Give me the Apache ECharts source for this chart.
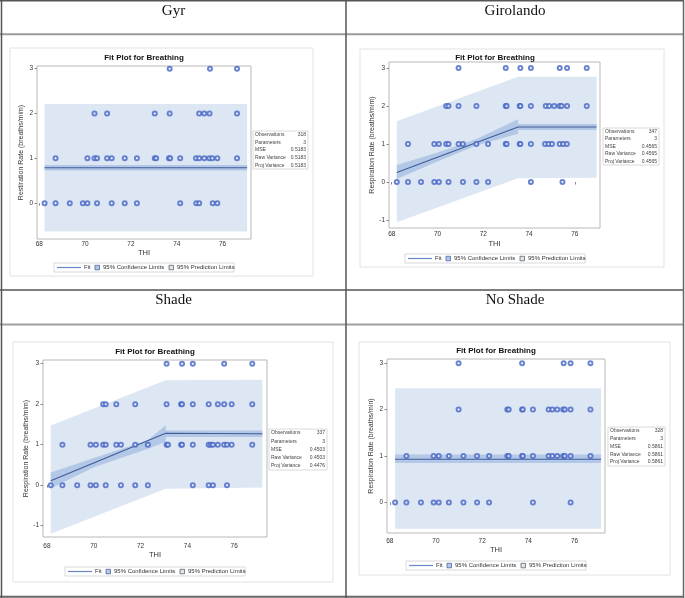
<!DOCTYPE html>
<html>
<head>
<meta charset="utf-8">
<script src="https://cdn.jsdelivr.net/npm/echarts@6/dist/echarts.min.js"></script>
<style>
html, body { margin: 0; padding: 0; background: #fff; }
#chart { width: 685px; height: 598px; }
</style>
</head>
<body>
<div id="chart"></div>
<script>
// table headers and axis titles
const panelNames = ['Gyr', 'Girolando', 'Shade', 'No Shade'];
const yNames = ['Restiration Rate (breaths/mim)', 'Respiration Rate (breaths/mim)',
  'Respiration Rate (breaths/mim)', 'Respiration Rate (breaths/min)'];
const xTicks = [68, 70, 72, 74, 76];
const statLabels = ['Observations', 'Parameters', 'MSE', 'Raw Variance', 'Proj Variance'];
const gyrStats = ['318', '3', '0.5183', '0.5183', '0.5183'];
const giroStats = ['347', '3', '0.4565', '0.4565', '0.4565'];
const shadeStats = ['337', '3', '0.4503', '0.4503', '0.4476'];
const noShadeStats = ['328', '3', '0.5861', '0.5861', '0.5861'];

// THI of observations, one list per respiration rate (0,1,2,3)
const gyr0 = [68.23, 68.71, 69.33, 69.9, 70.1, 70.52, 71.16, 71.73, 72.26, 74.15, 74.85, 74.98, 75.57, 75.77];
const gyr1 = [68.71, 70.1, 70.41, 70.52, 70.96, 71.16, 71.73, 72.26, 73.04, 73.1, 73.66, 73.71, 74.15, 74.84, 74.98, 75.2, 75.42, 75.55, 75.77, 76.63];
const gyr2 = [70.41, 70.96, 73.04, 73.69, 74.98, 75.2, 75.43, 76.63];
const gyr3 = [73.69, 75.45, 76.63];

const giro0 = [68.22, 68.71, 69.28, 69.86, 70.06, 70.48, 71.11, 71.7, 72.21, 74.08, 75.46];
const giro1 = [68.71, 69.86, 70.06, 70.38, 70.48, 70.92, 71.11, 71.7, 72.21, 72.98, 73.02, 73.59, 73.62, 74.08, 74.7, 74.85, 75.0, 75.34, 75.49, 75.65];
const giro2 = [70.38, 70.48, 70.92, 71.7, 72.98, 73.02, 73.59, 73.62, 74.08, 74.73, 74.88, 75.1, 75.34, 75.42, 75.66, 76.52];
const giro3 = [70.92, 72.98, 73.62, 74.08, 75.34, 75.66, 76.52];

const shade0 = [68.16, 68.66, 69.29, 69.86, 70.09, 70.51, 71.16, 71.77, 72.31, 74.23, 74.91, 75.09, 75.69];
const shade1 = [68.66, 69.86, 70.09, 70.4, 70.51, 70.96, 71.16, 71.77, 72.31, 73.11, 73.17, 73.73, 73.77, 74.23, 74.91, 75.0, 75.09, 75.3, 75.57, 75.69, 75.89, 76.77];
const shade2 = [70.4, 70.51, 70.96, 71.77, 73.11, 73.73, 73.77, 74.23, 74.91, 75.3, 75.57, 75.89, 76.77];
const shade3 = [73.11, 73.77, 74.23, 75.57, 76.77];

const noShade0 = [68.23, 68.72, 69.35, 69.9, 70.12, 70.56, 71.19, 71.78, 72.3, 74.2, 75.83];
const noShade1 = [68.72, 69.9, 70.12, 70.56, 71.19, 71.78, 72.3, 73.09, 73.15, 73.73, 73.76, 74.2, 74.88, 75.04, 75.25, 75.51, 75.58, 75.83, 76.69];
const noShade2 = [70.98, 73.09, 73.15, 73.73, 73.76, 74.2, 74.88, 75.04, 75.25, 75.51, 75.58, 75.83, 76.69];
const noShade3 = [70.98, 73.73, 75.53, 75.83, 76.69];

// fitted line [THI, rate]
const gyrFit = [[68.23, 0.79], [77.07, 0.79]];
const giroFit = [[68.22, 0.25], [73.52, 1.45], [76.95, 1.45]];
const shadeFit = [[68.16, 0.11], [73.07, 1.28], [77.2, 1.27]];
const noShadeFit = [[68.23, 0.93], [77.15, 0.93]];

// bands [THI, lower, upper]
const gyrConf = [[68.23, 0.73, 0.85], [77.07, 0.73, 0.85]];
const gyrPred = [[68.23, -0.63, 2.21], [77.07, -0.63, 2.21]];
const giroConf = [[68.22, 0.08, 0.45], [70, 0.54, 0.78], [71.7, 0.96, 1.13], [73.52, 1.27, 1.65], [73.53, 1.37, 1.53], [76.95, 1.37, 1.53]];
const giroPred = [[68.22, -1.06, 1.6], [73.52, 0.1, 2.77], [76.95, 0.11, 2.77]];
const shadeConf = [[68.16, -0.08, 0.31], [70, 0.44, 0.67], [72.3, 0.89, 1.11], [73.07, 1.07, 1.48], [73.08, 1.19, 1.35], [77.2, 1.19, 1.35]];
const shadePred = [[68.16, -1.2, 1.47], [73.07, -0.09, 2.59], [77.2, -0.06, 2.6]];
const noShadeConf = [[68.23, 0.85, 1.03], [77.15, 0.85, 1.03]];
const noShadePred = [[68.23, -0.57, 2.46], [77.15, -0.57, 2.46]];

const panels = [
  { pts: [gyr0, gyr1, gyr2, gyr3], fit: gyrFit, conf: gyrConf, pred: gyrPred, stats: gyrStats,
    grid: { left: 37, top: 66, width: 214, height: 173 }, x: [67.9, 77.24], y: [-0.8, 3.06], yt: [0, 1, 2, 3],
    box: [10, 48, 303, 228], head: [173.5, 11], title: [144, 54], stat: [253, 131, 55, 38], leg: [144, 263], xGap: 10, xMargin: 2 },
  { pts: [giro0, giro1, giro2, giro3], fit: giroFit, conf: giroConf, pred: giroPred, stats: giroStats,
    grid: { left: 389, top: 62, width: 211, height: 166 }, x: [67.88, 77.1], y: [-1.21, 3.16], yt: [-1, 0, 1, 2, 3],
    box: [360, 49, 304, 218], head: [515, 11], title: [495, 54], stat: [603, 128, 56, 37], leg: [495, 254], xGap: 12, xMargin: 3 },
  { pts: [shade0, shade1, shade2, shade3], fit: shadeFit, conf: shadeConf, pred: shadePred, stats: shadeStats,
    grid: { left: 43, top: 360, width: 224, height: 177 }, x: [67.83, 77.4], y: [-1.28, 3.09], yt: [-1, 0, 1, 2, 3],
    box: [13, 342, 320, 240], head: [173.5, 300], title: [155, 348], stat: [269, 429, 58, 41], leg: [155, 567], xGap: 14, xMargin: 6 },
  { pts: [noShade0, noShade1, noShade2, noShade3], fit: noShadeFit, conf: noShadeConf, pred: noShadePred, stats: noShadeStats,
    grid: { left: 387, top: 359, width: 218, height: 174 }, x: [67.88, 77.32], y: [-0.66, 3.09], yt: [0, 1, 2, 3],
    box: [359, 342, 311, 233], head: [515, 300], title: [496, 347], stat: [608, 427, 57, 39], leg: [496, 561], xGap: 13, xMargin: 5 }
];

const FONT = 'Liberation Sans';
const predFill = '#dde6f3';
const confFill = '#b3c8e6';
const fitColor = '#3f5b98';
const dotColor = '#4565c4';

function band(rows, fill) {
  return function (params, api) {
    if (params.dataIndex > 0) return null;
    const top = rows.map(r => api.coord([r[0], r[2]]));
    const bottom = rows.slice().reverse().map(r => api.coord([r[0], r[1]]));
    return { type: 'polygon', shape: { points: top.concat(bottom) }, style: { fill: fill } };
  };
}

function statTable(s, vals) {
  const rowH = s[3] / 5;
  const f = '5px "' + FONT + '"';
  const children = [{ type: 'rect', shape: { x: 0, y: 0, width: s[2], height: s[3] },
    style: { fill: '#fff', stroke: '#d0d0d0', lineWidth: 0.8 } }];
  statLabels.forEach((lab, i) => {
    children.push({ type: 'text', x: 2, y: rowH * i + rowH / 2,
      style: { text: lab, font: f, fill: '#444', verticalAlign: 'middle' } });
    children.push({ type: 'text', x: s[2] - 2, y: rowH * i + rowH / 2,
      style: { text: vals[i], font: f, fill: '#444', align: 'right', verticalAlign: 'middle' } });
  });
  return { type: 'group', x: s[0], y: s[1], children: children };
}

function legendBox(c) {
  const w = 180, f = '6px "' + FONT + '"';
  return { type: 'group', x: c[0] - w / 2, y: c[1], children: [
    { type: 'rect', shape: { x: 0, y: 0, width: w, height: 9 }, style: { fill: '#fff', stroke: '#cfcfcf', lineWidth: 0.8 } },
    { type: 'line', shape: { x1: 3, y1: 4.5, x2: 27, y2: 4.5 }, style: { stroke: '#6a88c4', lineWidth: 1.2 } },
    { type: 'text', x: 30, y: 4.7, style: { text: 'Fit', font: f, fill: '#333', verticalAlign: 'middle' } },
    { type: 'rect', shape: { x: 41, y: 2.3, width: 4.5, height: 4.5 }, style: { fill: confFill, stroke: '#4a67a6', lineWidth: 0.8 } },
    { type: 'text', x: 49, y: 4.7, style: { text: '95% Confidence Limits', font: f, fill: '#333', verticalAlign: 'middle' } },
    { type: 'rect', shape: { x: 115, y: 2.3, width: 4.5, height: 4.5 }, style: { fill: predFill, stroke: '#666', lineWidth: 0.8 } },
    { type: 'text', x: 123, y: 4.7, style: { text: '95% Prediction Limits', font: f, fill: '#333', verticalAlign: 'middle' } }
  ] };
}

const grids = [], xAxes = [], yAxes = [], titles = [], series = [];
const graphics = [];

panels.forEach((p, i) => {
  grids.push(Object.assign({ show: true, borderColor: '#b8b8b8', borderWidth: 1, backgroundColor: '#fff' }, p.grid));
  titles.push({ text: 'Fit Plot for Breathing', left: p.title[0], top: p.title[1], textAlign: 'center', padding: 0,
    textStyle: { fontFamily: FONT, fontSize: 8, fontWeight: 'bold', color: '#111' } });
  xAxes.push({ type: 'value', gridIndex: i, min: p.x[0], max: p.x[1], name: 'THI', nameLocation: 'middle',
    nameGap: p.xGap, nameTextStyle: { fontFamily: FONT, fontSize: 7.5, color: '#333' },
    axisLine: { show: false }, splitLine: { show: false },
    axisTick: { show: true, length: 2.5, customValues: xTicks, lineStyle: { color: '#888' } },
    axisLabel: { customValues: xTicks, margin: p.xMargin, fontFamily: FONT, fontSize: 6.5, color: '#333' } });
  yAxes.push({ type: 'value', gridIndex: i, min: p.y[0], max: p.y[1], name: yNames[i], nameLocation: 'middle',
    nameRotate: 90, nameGap: 12, nameTextStyle: { fontFamily: FONT, fontSize: 7, color: '#333' },
    axisLine: { show: false }, splitLine: { show: false },
    axisTick: { show: true, length: 2.5, customValues: p.yt, lineStyle: { color: '#888' } },
    axisLabel: { customValues: p.yt, margin: 4, fontFamily: FONT, fontSize: 6.5, color: '#333' } });

  series.push({ type: 'custom', name: '95% Prediction Limits', xAxisIndex: i, yAxisIndex: i, z: 1, silent: true,
    data: [[p.pred[0][0], p.pred[0][1]]], renderItem: band(p.pred, predFill) });
  series.push({ type: 'custom', name: '95% Confidence Limits', xAxisIndex: i, yAxisIndex: i, z: 2, silent: true,
    data: [[p.conf[0][0], p.conf[0][1]]], renderItem: band(p.conf, confFill) });
  series.push({ type: 'line', name: 'Fit', xAxisIndex: i, yAxisIndex: i, z: 3, data: p.fit, showSymbol: false,
    lineStyle: { color: fitColor, width: 1.1 } });
  const pts = [];
  p.pts.forEach((list, rate) => list.forEach(t => pts.push([t, rate])));
  series.push({ type: 'scatter', name: 'Breathing', xAxisIndex: i, yAxisIndex: i, z: 4, data: pts,
    symbol: 'emptyCircle', symbolSize: 4, itemStyle: { color: dotColor, borderWidth: 1 } });

  graphics.push({ type: 'rect', shape: { x: p.box[0], y: p.box[1], width: p.box[2], height: p.box[3] },
    style: { fill: 'none', stroke: '#e2e2e2', lineWidth: 1 }, z: -1 });
  graphics.push({ type: 'text', x: p.head[0], y: p.head[1],
    style: { text: panelNames[i], font: '15px "Liberation Serif"', fill: '#111', align: 'center', verticalAlign: 'middle' } });
  graphics.push(statTable(p.stat, p.stats));
  graphics.push(legendBox(p.leg));
});

// outer table rules
[[0, 0.8, 684, 0.8, '#555', 1.5], [0, 34.3, 684, 34.3, '#9a9a9a', 2], [0, 290, 684, 290, '#555', 1.5],
 [0, 324.5, 684, 324.5, '#a0a0a0', 2], [0, 596.7, 684, 596.7, '#666', 2],
 [1.5, 0, 1.5, 598, '#555', 1.5], [346, 0, 346, 598, '#555', 1.5], [683.5, 0, 683.5, 598, '#666', 1.5]
].forEach(l => graphics.push({ type: 'line', shape: { x1: l[0], y1: l[1], x2: l[2], y2: l[3] },
  style: { stroke: l[4], lineWidth: l[5] }, z: 10 }));

const chart = echarts.init(document.getElementById('chart'));
chart.setOption({
  animation: false,
  backgroundColor: '#fff',
  title: titles,
  grid: grids,
  xAxis: xAxes,
  yAxis: yAxes,
  series: series,
  graphic: graphics
});
</script>
</body>
</html>
